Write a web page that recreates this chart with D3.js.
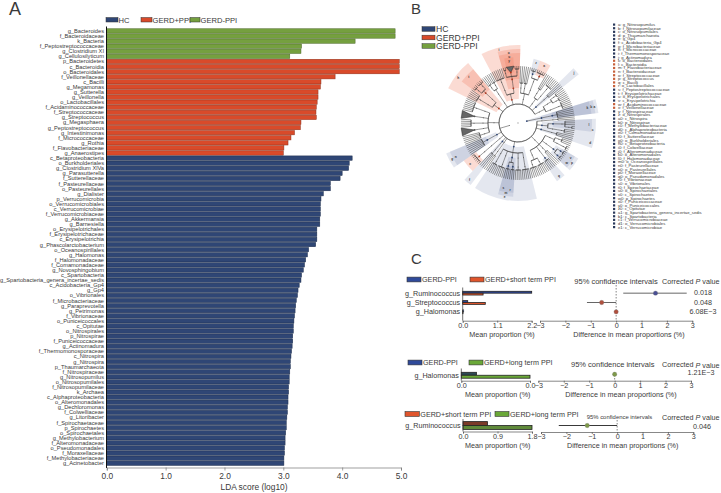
<!DOCTYPE html>
<html><head><meta charset="utf-8">
<script src="https://cdn.jsdelivr.net/npm/d3@7/dist/d3.min.js"></script>
<style>html,body{margin:0;padding:0;background:#fff}svg{display:block}text{font-family:"Liberation Sans",Arial,sans-serif;fill:#3a3a3a}</style>
</head><body><svg id="c" width="721" height="493"></svg>
<script>
// ---------- Panel A data
const groupNames = ["HC","GERD+PPI","GERD-PPI"];
const greenTaxa = ["g_Bacteroides","f_Bacteroidaceae","k_Bacteria","f_Peptostreptococcaceae","g_Clostridium XI","g_Cellulosilyticum"];
const greenLDA = [4.90,4.90,4.22,3.31,3.30,3.11];
const redTaxa = ["p_Bacteroidetes","c_Bacteroidia","o_Bacteroidales","f_Veillonellaceae","c_Bacilli","g_Megamonas","g_Sutterella","g_Veillonella","o_Lactobacillales","f_Acidaminococcaceae","f_Streptococcaceae","g_Streptococcus","g_Megasphaera","g_Peptostreptococcus","g_Intestinimonas","f_Micrococcaceae","g_Rothia","f_Flavobacteriaceae","g_Anaerostipes"];
const redLDA = [4.97,4.97,4.97,3.88,3.64,3.63,3.59,3.59,3.575,3.56,3.555,3.56,3.30,3.29,3.19,3.13,3.08,3.01,3.00];
const blueTaxa = ["c_Betaproteobacteria","o_Burkholderiales","g_Clostridium XlVa","g_Parasutterella","f_Sutterellaceae","f_Pasteurellaceae","o_Pasteurellales","g_Dialister","p_Verrucomicrobia","o_Verrucomicrobiales","c_Verrucomicrobiae","f_Verrucomicrobiaceae","g_Akkermansia","g_Barnesiella","o_Erysipelotrichales","f_Erysipelotrichaceae","c_Erysipelotrichia","g_Phascolarctobacterium","o_Oceanospirillales","g_Halomonas","f_Halomonadaceae","f_Comamonadaceae","g_Novosphingobium","c_Spartobacteria","g_Spartobacteria_genera_incertae_sedis","c_Acidobacteria_Gp4","g_Gp4","o_Vibrionales","f_Microbacteriaceae","g_Paraprevotella","g_Petrimonas","f_Vibrionaceae","o_Puniceicoccales","c_Opitutae","o_Nitrospirales","p_Nitrospirae","f_Puniceicoccaceae","g_Actinomadura","f_Thermomonosporaceae","c_Nitrospira","g_Nitrospira","p_Thaumarchaeota","f_Nitrospiraceae","g_Nitrosopumilus","o_Nitrosopumilales","f_Nitrosopumilaceae","k_Archaea","c_Alphaproteobacteria","o_Alteromonadales","g_Dechloromonas","f_Colwelliaceae","g_Litoribacter","f_Spirochaetaceae","p_Spirochaetes","o_Spirochaetales","g_Methylobacterium","f_Alteromonadaceae","o_Pseudomonadales","f_Moraxellaceae","f_Methylobacteriaceae","g_Acinetobacter"];
const blueLDA = [4.17,4.12,4.11,4.00,3.965,3.80,3.80,3.68,3.64,3.63,3.63,3.63,3.62,3.62,3.57,3.57,3.57,3.55,
 3.43,3.41,3.38,3.36,3.34,3.31,3.30,3.27,3.25,3.24,3.22,3.21,3.20,3.19,3.18,3.17,3.17,3.16,3.16,3.15,
 3.14,3.13,3.12,3.12,3.11,3.10,3.10,3.09,3.09,3.08,3.08,3.07,3.07,3.06,3.05,3.05,3.04,3.03,3.03,3.02,3.02,3.01,3.01];
const ldaTicks = [0,1,2,3,4,5];

// ---------- Panel B data: cladogram tree, clockwise from the Archaea.
// A node is an array; a leading string tags it (H = HC, R = GERD+PPI, T = collapsed); a number is that many leaf taxa.
const cladogramTree = [
 ["H",["H",["H",5]]],
 [
  [[2]],
  ["H",["H",[3,[2]]],[[3]]],
  ["H",[3]],
  [[[3],[[3]]],[["H",["H",3],["H",3]]],[3],[["H",4]],[[5],[5]]],
  ["H",[[3,2]],[[4]],["H",["H",3],["H",3]],[[3,2]],[[4]]],
  [[2]],
  ["H",[3]],
  [[[["R",6]]]],
  ["H",["H",6]],
  [[5],[["T",4]],[[5]],[["T",4]],[[3,4]]],
  ["R",[[5]],[["R",[3],[4]]]],
  [[[3],[3]]],
  ["R",[[6]],["R",["R",[2],["RT",4],[3]]]],
  [[3],[3],[[["H",3],["R",5]]]],
  [[3],[[5]]],
  ["H",[3]],
  [[[3],[3]],[[5]]]
 ]
];
const biomarkerLabels = ["g_Nitrosopumilus","f_Nitrosopumilaceae","o_Nitrosopumilales","p_Thaumarchaeota","g_Gp4","c_Acidobacteria_Gp4","f_Microbacteriaceae","f_Micrococcaceae","f_Thermomonosporaceae","g_Actinomadura","o_Bacteroidales","c_Bacteroidia","f_Flavobacteriaceae","f_Bacteroidaceae","f_Streptococcaceae","g_Streptococcus","c_Bacilli","o_Lactobacillales","f_Peptostreptococcaceae","f_Erysipelotrichaceae","o_Erysipelotrichales","c_Erysipelotrichia","f_Acidaminococcaceae","f_Veillonellaceae","f_Nitrospiraceae","o_Nitrospirales","c_Nitrospira","p_Nitrospirae","f_Methylobacteriaceae","c_Alphaproteobacteria","f_Comamonadaceae","f_Sutterellaceae","o_Burkholderiales","c_Betaproteobacteria","f_Colwelliaceae","f_Alteromonadaceae","o_Alteromonadales","f_Halomonadaceae","o_Oceanospirillales","f_Pasteurellaceae","o_Pasteurellales","f_Moraxellaceae","o_Pseudomonadales","f_Vibrionaceae","o_Vibrionales","f_Spirochaetaceae","o_Spirochaetales","c_Spirochaetes","p_Spirochaetes","f_Puniceicoccaceae","o_Puniceicoccales","c_Opitutae","g_Spartobacteria_genera_incertae_sedis","c_Spartobacteria","f_Verrucomicrobiaceae","o_Verrucomicrobiales","c_Verrucomicrobiae"];
const biomarkerRed = ["c_Bacteroidia","f_Flavobacteriaceae","f_Bacteroidaceae","f_Streptococcaceae","g_Streptococcus","c_Bacilli","o_Lactobacillales","f_Acidaminococcaceae","f_Veillonellaceae","o_Bacteroidales"];

// ---------- Panel C data
const c1Genera = ["g_Ruminococcus","g_Streptococcus","g_Halomonas"];
const c1MeanA = [2.2,0.16,0.03], c1MeanB = [0.65,0.72,0.01];
const c1Diff = [1.55,-0.57,0.0], c1Low = [0.28,-1.15,-0.03], c1High = [2.78,0.0,0.03];
const c1P = ["0.018","0.048","6.08E\u22123"];
const c2Genera = ["g_Halomonas"], c2MeanA=[0.011], c2MeanB=[0.05], c2Diff=[0.0], c2Low=[-0.02], c2High=[0.02], c2P=["1.21E\u22123"];
const c3Genera = ["g_Ruminococcus"], c3MeanA=[0.64], c3MeanB=[1.8], c3Diff=[-1.18], c3Low=[-2.3], c3High=[0.0], c3P=["0.046"];
const diffTicks = [-3,-2,-1,0,1,2,3];

const NAVY="#2f4675", RED="#d94a2a", GREEN="#75a03f", INK="#3a3a3a";
const svg = d3.select("#c");
const T=(x,y,s,size,anchor,extra)=>{const t=svg.append("text").attr("x",x).attr("y",y).attr("font-size",size).attr("text-anchor",anchor||"start").attr("dominant-baseline","central").text(s);if(extra)extra(t);return t;};

// ---------- Panel A
T(9,9,"A",18);T(411,8,"B",15);T(411,258,"C",15);
[[106,118,groupNames[0],NAVY],[141,152,groupNames[1],RED],[190,200,groupNames[2],GREEN]].forEach(([a,b,s,c])=>{
  svg.append("rect").attr("x",a).attr("y",17.5).attr("width",b-a).attr("height",4.5).attr("fill",c).attr("stroke","#333").attr("stroke-width",.5);
  T(b+.5,20,s,7.6);
});
const bars=[...greenTaxa.map((n,i)=>({n,v:greenLDA[i],c:GREEN})),...redTaxa.map((n,i)=>({n,v:redLDA[i],c:RED})),...blueTaxa.map((n,i)=>({n,v:blueLDA[i],c:NAVY}))];
const xA=d3.scaleLinear().domain([0,5]).range([106.8,401]);
const yA=d3.scaleBand().domain(bars.map(d=>d.n+d.v)).range([28.4,465.8]).paddingInner(.14).paddingOuter(.07);
svg.append("g").selectAll("rect").data(bars).join("rect").attr("x",xA(0)).attr("y",d=>yA(d.n+d.v)).attr("width",d=>xA(d.v)-xA(0)).attr("height",yA.bandwidth()).attr("fill",d=>d.c).attr("stroke",d=>d3.color(d.c).darker(1.2)).attr("stroke-width",.5);
svg.append("g").selectAll("text").data(bars).join("text").attr("x",104).attr("y",d=>yA(d.n+d.v)+yA.bandwidth()/2).attr("text-anchor","end").attr("dominant-baseline","central").attr("font-size",5.7).text(d=>d.n);
svg.append("line").attr("x1",106.5).attr("x2",106.5).attr("y1",26.5).attr("y2",468).attr("stroke","#111").attr("stroke-width",1);
const axA=svg.append("g").attr("transform","translate(0,467.5)").call(d3.axisBottom(xA).tickValues(ldaTicks).tickFormat(d3.format(".1f")).tickSize(3).tickPadding(3));
axA.selectAll("path,line").attr("stroke","#777").attr("stroke-width",.7);axA.selectAll("text").attr("font-size",8.4).attr("font-family",null).attr("fill",INK);
T(254,487,"LDA score (log10)",8.4,"middle");

// ---------- Panel B legend
[[groupNames[0],NAVY,29],[groupNames[1],RED,37.5],[groupNames[2],GREEN,46]].forEach(([s,c,y])=>{
  svg.append("rect").attr("x",422).attr("y",y-2.3).attr("width",13).attr("height",4.6).attr("fill",c).attr("stroke","#333").attr("stroke-width",.5);
  T(436,y,s,8.6);
});
// ---------- Panel B cladogram
const CX=518,CY=123;
const nodeR=[0,9,24,35,44,51,57], arcR=[0,19,30,40,47,54], outerR=[0,81,78,74,70,66,61];
function build(spec){
  const n={tag:"",children:[]};
  spec.forEach(s=>{
    if(typeof s==="string") n.tag=s;
    else if(typeof s==="number") for(let i=0;i<s;i++) n.children.push({tag:"",leaf:true});
    else n.children.push(build(s));
  });
  return n;
}
const root=d3.hierarchy({tag:"",children:cladogramTree.map(build)},d=>d.children);
const leaves=root.leaves();
const angle=d3.scaleLinear().domain([0,leaves.length]).range([73,433]);
leaves.forEach((l,i)=>{l.i0=i;l.i1=i+1;l.a=angle(i+.5);l.r=nodeR[6];});
root.eachAfter(n=>{ if(n.children){const f=n.children[0],e=n.children[n.children.length-1];n.i0=f.i0;n.i1=e.i1;n.a=(f.a+e.a)/2;n.r=nodeR[n.depth];}});
const pol=(deg,r)=>{const t=(deg-90)*Math.PI/180;return [CX+r*Math.cos(t),CY+r*Math.sin(t)];};
const arcGen=d3.arc();
const wedge=(a0,a1,r0,r1)=>arcGen({startAngle:a0*Math.PI/180,endAngle:a1*Math.PI/180,innerRadius:r0,outerRadius:r1});
const gB=svg.append("g");
const tagged=root.descendants().filter(n=>n.data.tag&&/[HR]/.test(n.data.tag)).sort((a,b)=>a.depth-b.depth);
gB.append("g").attr("transform",`translate(${CX},${CY})`).selectAll("path").data(tagged).join("path")
  .attr("d",n=>wedge(angle(n.i0),angle(n.i1),n.r,outerR[n.depth]))
  .attr("fill",n=>/R/.test(n.data.tag)?"#f07a5c":"#6f80a8").attr("fill-opacity",n=>/R/.test(n.data.tag)?.27:.19);
// collapsed clades
gB.selectAll("path.tri").data(root.descendants().filter(n=>/T/.test(n.data.tag))).join("path").attr("class","tri")
  .attr("d",n=>{const p=pol(n.a,n.r),q=pol(angle(n.i0),57),s=pol(angle(n.i1),57);return `M${p}L${q}L${s}Z`;})
  .attr("fill","#666").attr("stroke","#222").attr("stroke-width",.5);
const lines=gB.append("g").attr("fill","none").attr("stroke","#333").attr("stroke-width",.5);
root.descendants().forEach(n=>{
  if(n.depth>=1){
    const from=n.parent.depth===0?n.r:arcR[n.parent.depth];
    const a=pol(n.a,from),b=pol(n.a,n.r);
    if(n.parent.depth>0&&!/T/.test(n.parent.data.tag)) lines.append("line").attr("x1",a[0]).attr("y1",a[1]).attr("x2",b[0]).attr("y2",b[1]);
  }
  if(n.children&&n.depth>=1&&!/T/.test(n.data.tag)){
    const f=n.children[0].a,e=n.children[n.children.length-1].a,r=arcR[n.depth];
    const p=pol(n.a,n.r),q=pol(n.a,r);
    lines.append("line").attr("x1",p[0]).attr("y1",p[1]).attr("x2",q[0]).attr("y2",q[1]);
    lines.append("path").attr("transform",`translate(${CX},${CY})`).attr("d",d3.arc()({startAngle:f*Math.PI/180,endAngle:e*Math.PI/180,innerRadius:r,outerRadius:r}));
  }
});
gB.append("g").selectAll("circle").data(root.descendants().filter(n=>n.depth>0&&n.children)).join("circle")
  .attr("cx",n=>pol(n.a,n.r)[0]).attr("cy",n=>pol(n.a,n.r)[1]).attr("r",n=>n.data.tag?.9:.5)
  .attr("fill",n=>/R/.test(n.data.tag)?"#b5361c":/H/.test(n.data.tag)?NAVY:"#555");
svg.append("circle").attr("cx",CX).attr("cy",CY).attr("r",.9).attr("fill","#ccc");
// tiny letters inside the shaded sectors
const letters=d3.range(26).map(i=>String.fromCharCode(97+i));
gB.append("g").selectAll("text").data(tagged).join("text")
  .attr("x",n=>pol(n.a,outerR[n.depth]-3)[0]).attr("y",n=>pol(n.a,outerR[n.depth]-3)[1])
  .attr("text-anchor","middle").attr("dominant-baseline","central").attr("font-size",3.2).attr("font-weight","bold").style("fill","#333")
  .text((n,i)=>letters[i%26]);
// biomarker list
const yList=d3.scalePoint().domain(biomarkerLabels).range([24.5,227]);
const code=i=>i<26?letters[i]:letters[(i-26)%26]+(i<52?"0":"1");
biomarkerLabels.forEach((s,i)=>{
  const y=yList(s);
  svg.append("rect").attr("x",613).attr("y",y-1).attr("width",2.2).attr("height",2.2).attr("fill",biomarkerRed.includes(s)?"#c8623c":"#2c3a5c");
  T(618,y,code(i)+": "+s,4.2);
});

// ---------- Panel C
const FS=7.2;
function panelC(o){
  o.legend.forEach(l=>{
    svg.append("rect").attr("x",l.x0).attr("y",o.legY-2.4).attr("width",l.x1-l.x0).attr("height",4.8).attr("fill",l.c).attr("stroke","#333").attr("stroke-width",.6);
    T(l.x1+1,o.legY,l.s,FS);
  });
  const xL=d3.scaleLinear().domain([0,o.max]).range([o.lx0,o.lx1]);
  const yB=d3.scaleBand().domain(o.genera).range([o.y0,o.y1]);
  o.genera.forEach((g,i)=>{
    const y=yB(g), h=yB.bandwidth();
    T(o.lx0-2.5,y+h*.5,g,FS,"end");
    [[o.a[i],o.ca,y+o.pad],[o.b[i],o.cb,y+o.pad+(h-2*o.pad)/2]].forEach(([v,c,yy])=>{
      svg.append("rect").attr("x",xL(0)).attr("y",yy).attr("width",xL(v)-xL(0)).attr("height",(h-2*o.pad)/2).attr("fill",c).attr("stroke","#222").attr("stroke-width",.8);
    });
  });
  svg.append("line").attr("x1",o.lx0).attr("x2",o.lx0).attr("y1",o.y0-1).attr("y2",o.axisY).attr("stroke","#333").attr("stroke-width",.7);
  const aL=svg.append("g").attr("transform",`translate(0,${o.axisY})`).call(d3.axisBottom(xL).tickValues(o.lt).tickFormat((d,i)=>o.ltl[i]).tickSize(2).tickPadding(.3));
  aL.selectAll("path,line").attr("stroke","#555").attr("stroke-width",.7);aL.selectAll("text").attr("font-size",FS).attr("font-family",null).attr("fill",INK);
  T(o.leftTitle,o.titleY,"Mean proportion (%)",FS,"middle");
  const xR=d3.scaleLinear().domain([-3,3]).range([o.rx0,o.rx1]);
  const aR=svg.append("g").attr("transform",`translate(0,${o.axisYR})`).call(d3.axisBottom(xR).tickValues(diffTicks).tickFormat(d3.format("d")).tickSize(2).tickPadding(.3));
  aR.selectAll("path,line").attr("stroke","#555").attr("stroke-width",.7);aR.selectAll("text").attr("font-size",FS).attr("font-family",null).attr("fill",INK);
  T(o.rightTitle,o.titleY,"Difference in mean proportions (%)",FS,"middle");
  svg.append("line").attr("x1",xR(0)).attr("x2",xR(0)).attr("y1",o.dashTop).attr("y2",o.axisYR).attr("stroke","#333").attr("stroke-width",.6).attr("stroke-dasharray","1.5,1.5");
  o.genera.forEach((g,i)=>{
    const y=yB(g)+yB.bandwidth()/2+(o.dotShift||0);
    svg.append("line").attr("x1",xR(o.low[i])).attr("x2",xR(o.high[i])).attr("y1",y).attr("y2",y).attr("stroke",o.ciC[i]).attr("stroke-width",.9);
    svg.append("circle").attr("cx",xR(o.diff[i])).attr("cy",y).attr("r",2.2).attr("fill",o.dotC[i]).attr("stroke","#777").attr("stroke-width",.3);
    T(o.pX,y+(o.pShift||0),o.p[i],FS,"middle");
  });
  T(o.ciX,o.headY,"95% confidence intervals",o.ciSize,"middle");
  const c=T(662,o.headY,"Corrected ",FS);c.append("tspan").attr("font-style","italic").text("P");c.append("tspan").text(" value");
}
const HDR_A="GERD-PPI",HDR_S="GERD+short term PPI",HDR_L="GERD+long term PPI";
panelC({legend:[{x0:407,x1:421,s:HDR_A,c:"#2f4a9a"},{x0:470,x1:484,s:HDR_S,c:"#e0552c"}],legY:279.5,
  genera:c1Genera,a:c1MeanA,b:c1MeanB,ca:"#2f4a9a",cb:"#e0552c",low:c1Low,high:c1High,diff:c1Diff,p:c1P,
  max:2.2,lx0:462.7,lx1:531.7,y0:288.5,y1:316.5,pad:2.8,axisY:320.7,axisYR:320.7,lt:[0,1.1,2.2],ltl:["0.0","1.1","2.2"],leftTitle:502,rightTitle:629,titleY:334.2,
  rx0:540,rx1:692.3,dashTop:285,ciC:["#555","#555","#555"],dotC:["#4a4f94","#b0503e","#b0503e"],pX:703,pShift:-.5,ciX:616,ciSize:7.5,headY:281});
panelC({legend:[{x0:408,x1:422,s:HDR_A,c:"#2f4a9a"},{x0:469,x1:483,s:HDR_L,c:"#6aa838"}],legY:362.5,
  genera:c2Genera,a:c2MeanA,b:c2MeanB,ca:"#2d4a55",cb:"#6aa838",low:c2Low,high:c2High,diff:c2Diff,p:c2P,
  max:.05,lx0:461.3,lx1:530,y0:369.5,y1:381,pad:2.8,axisY:380.7,axisYR:380.7,lt:[0,.05],ltl:["0.0","0.0"],leftTitle:497.7,rightTitle:621,titleY:394,
  rx0:538.3,rx1:691,dashTop:372,ciC:["#555"],dotC:["#7f9a4a"],pX:701,pShift:-1.5,dotShift:-1,ciX:612.7,ciSize:7.5,headY:364.5});
panelC({legend:[{x0:405,x1:419.3,s:HDR_S,c:"#e0552c"},{x0:495,x1:509,s:HDR_L,c:"#6aa838"}],legY:414,
  genera:c3Genera,a:c3MeanA,b:c3MeanB,ca:"#7a3a28",cb:"#5f8a3a",low:c3Low,high:c3High,diff:c3Diff,p:c3P,
  max:1.8,lx0:463,lx1:532,y0:420,y1:431,pad:1.6,axisY:431.5,axisYR:432,lt:[0,.9,1.8],ltl:["0.0","0.9","1.8"],leftTitle:497.7,rightTitle:622.7,titleY:445.5,
  rx0:541,rx1:693.3,dashTop:420,ciC:["#222"],dotC:["#7f9a4a"],pX:702,pShift:.5,ciX:619.5,ciSize:5.9,headY:417});
</script></body></html>
